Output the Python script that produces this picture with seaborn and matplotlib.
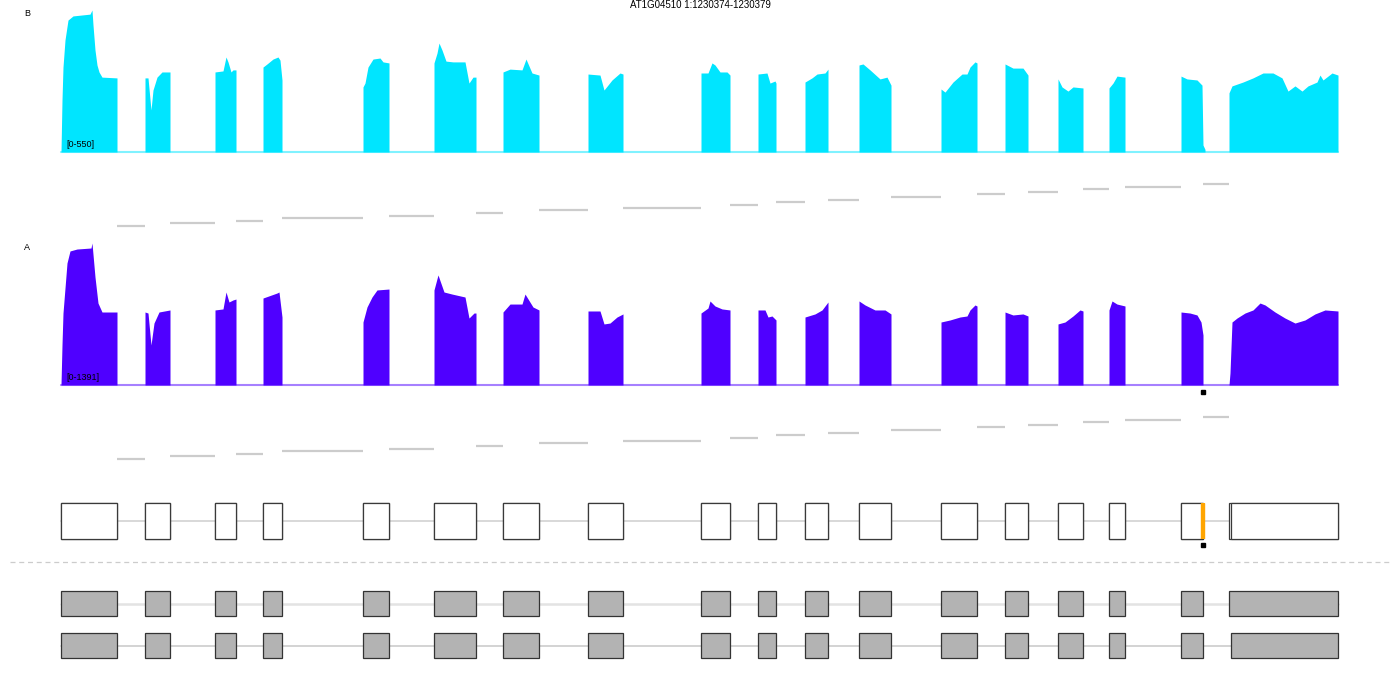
import matplotlib
matplotlib.use("Agg")
import matplotlib.pyplot as plt
from matplotlib.patches import Rectangle
from matplotlib.lines import Line2D
import seaborn as sns

title = "AT1G04510 1:1230374-1230379"

# gene structure (position units along the locus)
exon_starts = [61, 145, 215, 263, 363, 434, 503, 588, 701, 758, 805, 859, 941, 1005, 1058, 1109, 1181, 1229]
exon_ends = [117, 170, 236, 282, 389, 476, 539, 623, 730, 776, 828, 891, 977, 1028, 1083, 1125, 1203, 1338]
exon_starts_t2 = [61, 145, 215, 263, 363, 434, 503, 588, 701, 758, 805, 859, 941, 1005, 1058, 1109, 1181, 1231]
site = (1201, 1204)

# coverage, sample B (range 0-550)
b_max = 550
cov_b = [
    [(61, 0), (62, 201), (63, 329), (65, 434), (68, 511), (73, 527), (90, 534), (91, 542), (92, 550),
     (93, 492), (95, 395), (97, 337), (99, 310), (102, 290), (117, 287)],
    [(145, 287), (148, 287), (151, 163), (153, 240), (157, 290), (162, 310), (170, 310)],
    [(215, 310), (223, 314), (226, 368), (228, 349), (231, 310), (233, 318), (236, 318)],
    [(263, 329), (267, 341), (273, 360), (278, 368), (280, 356), (282, 279)],
    [(363, 252), (365, 267), (368, 329), (373, 360), (380, 364), (383, 349), (389, 345)],
    [(434, 345), (437, 383), (439, 422), (442, 395), (446, 352), (453, 349), (465, 349), (469, 267),
     (473, 290), (476, 290)],
    [(503, 310), (510, 321), (522, 318), (526, 360), (532, 306), (539, 298)],
    [(588, 302), (600, 298), (604, 240), (612, 279), (620, 306), (623, 302)],
    [(701, 306), (708, 306), (712, 345), (715, 337), (720, 310), (727, 310), (730, 298)],
    [(758, 302), (767, 306), (770, 267), (775, 275), (776, 267)],
    [(805, 271), (812, 287), (817, 302), (825, 306), (828, 321)],
    [(859, 337), (863, 341), (870, 318), (880, 283), (887, 290), (891, 259)],
    [(941, 244), (945, 232), (953, 271), (962, 302), (967, 302), (970, 329), (975, 349), (977, 345)],
    [(1005, 341), (1013, 325), (1023, 325), (1028, 298)],
    [(1058, 283), (1062, 252), (1068, 236), (1073, 252), (1083, 248)],
    [(1109, 248), (1113, 267), (1117, 294), (1125, 290)],
    [(1181, 294), (1187, 283), (1197, 279), (1202, 259), (1203, 27), (1205, 10)],
    [(1229, 229), (1232, 256), (1243, 271), (1253, 287), (1263, 306), (1273, 306), (1282, 287), (1288, 236),
     (1295, 256), (1302, 236), (1308, 256), (1317, 271), (1320, 298), (1323, 279), (1332, 306), (1338, 298)],
]

# coverage, sample A (range 0-1391)
a_max = 1391
cov_a = [
    [(61, 0), (62, 392), (63, 705), (67, 1195), (70, 1313), (77, 1332), (91, 1342), (92, 1391),
     (95, 1058), (98, 803), (102, 715), (117, 715)],
    [(145, 715), (148, 705), (151, 392), (154, 607), (159, 715), (170, 735)],
    [(215, 735), (223, 745), (226, 911), (229, 813), (233, 833), (236, 842)],
    [(263, 852), (277, 901), (279, 911), (282, 666)],
    [(363, 617), (367, 764), (372, 862), (377, 931), (389, 940)],
    [(434, 931), (438, 1078), (444, 911), (452, 891), (465, 862), (469, 656), (474, 705), (476, 705)],
    [(503, 715), (510, 793), (522, 793), (525, 891), (533, 764), (539, 735)],
    [(588, 725), (600, 725), (604, 598), (610, 607), (617, 666), (623, 696)],
    [(701, 705), (708, 754), (710, 823), (715, 774), (722, 745), (730, 735)],
    [(758, 735), (765, 735), (768, 666), (772, 676), (776, 637)],
    [(805, 666), (815, 696), (822, 735), (828, 813)],
    [(859, 823), (865, 784), (875, 735), (885, 735), (891, 696)],
    [(941, 617), (950, 637), (960, 666), (967, 676), (970, 735), (975, 784), (977, 774)],
    [(1005, 715), (1013, 686), (1023, 696), (1028, 676)],
    [(1058, 598), (1065, 617), (1073, 676), (1080, 735), (1083, 725)],
    [(1109, 735), (1112, 823), (1117, 793), (1125, 774)],
    [(1181, 715), (1190, 705), (1197, 686), (1201, 617), (1203, 490)],
    [(1229, 0), (1230, 118), (1232, 617), (1237, 656), (1245, 705), (1253, 735), (1260, 803), (1265, 784),
     (1275, 715), (1285, 656), (1295, 607), (1305, 637), (1315, 696), (1325, 735), (1338, 725)],
]

W, H = 1400, 700

sns.set_theme(style="white")
plt.rcParams['font.family'] = ['Liberation Sans', 'DejaVu Sans']
fig = plt.figure(figsize=(14, 7), dpi=100)


def track_ax(top, bottom):
    ax = fig.add_axes([0, 1 - bottom / H, 1, (bottom - top) / H])
    ax.set_xlim(0, W)
    ax.set_axis_off()
    return ax


def draw_coverage(ax, cov, ymax, fill, base, label, name, name_y):
    ax.set_ylim(0, ymax)
    ax.plot([exon_starts[0], exon_ends[-1]], [0, 0], color=base, lw=1.5, zorder=1, clip_on=False)
    for seg in cov:
        xs = [seg[0][0]] + [p[0] for p in seg] + [seg[-1][0]]
        ys = [0] + [p[1] for p in seg] + [0]
        ax.fill_between(xs, 0, ys, color=fill, lw=0, zorder=2)
    ax.text(66, ymax * 0.02, label, fontsize=6.5, va="bottom", ha="left", color="black", zorder=3)
    fig.text(27 / W, 1 - name_y / H, name, fontsize=6.5, ha="center", va="center", color="black")


def draw_junctions(ax):
    ax.set_ylim(-1.5, 17.5)
    for i in range(len(exon_ends) - 1):
        ax.plot([exon_ends[i], exon_starts[i + 1]], [i, i], color="#cccccc", lw=1.6,
                solid_capstyle="butt")


def draw_exons(ax, starts, ends, y, h, face, edge):
    for s, e in zip(starts, ends):
        ax.add_patch(Rectangle((s, y - h / 2), e - s, h, facecolor=face, edgecolor=edge, lw=0.9,
                               zorder=3, clip_on=False))


# sample B
ax_b = track_ax(10, 152)
draw_coverage(ax_b, cov_b, b_max, "#00e5ff", "#80f2ff", "[0-550]", "B", 14)
ax_bj = track_ax(180, 230)
draw_junctions(ax_bj)

# sample A
ax_a = track_ax(243, 385)
draw_coverage(ax_a, cov_a, a_max, "#4f00ff", "#a680ff", "[0-1391]", "A", 247)
ax_a.plot([sum(site) / 2 + 0.5], [-a_max * 0.05], marker="s", ms=2.5, color="black", clip_on=False)
ax_aj = track_ax(413, 463)
draw_junctions(ax_aj)

# gene model (both transcripts overlaid)
ax_g = track_ax(503, 539)
ax_g.set_ylim(-0.5, 0.5)
ax_g.plot([exon_starts[0], exon_ends[-1]], [0, 0], color="#d5d5d5", lw=1.3, zorder=1)
draw_exons(ax_g, exon_starts, exon_ends, 0, 1, "white", "#3a3a3a")
draw_exons(ax_g, exon_starts_t2, exon_ends, 0, 1, "white", "#3a3a3a")
ax_g.axvspan(site[0], site[1], color="#ffa500", zorder=4)
ax_g.plot([sum(site) / 2 + 0.5], [-0.67], marker="s", ms=2.5, color="black", clip_on=False)

# separator
fig.add_artist(Line2D([10 / W, 1390 / W], [1 - 562 / H] * 2, transform=fig.transFigure,
                      color="#cccccc", lw=0.9, ls=(0, (4, 3))))

# transcripts
ax_t = track_ax(580, 670)
ax_t.set_ylim(-0.583, 1.56)
ax_t.plot([exon_starts[0], exon_ends[-1]], [1, 1], color="#e3e3e3", lw=1.8, zorder=1)
ax_t.plot([exon_starts_t2[0], exon_ends[-1]], [0, 0], color="#cccccc", lw=1.2, zorder=1)
draw_exons(ax_t, exon_starts, exon_ends, 1, 0.595, "#b3b3b3", "#333333")
draw_exons(ax_t, exon_starts_t2, exon_ends, 0, 0.595, "#b3b3b3", "#333333")

fig.text(0.5, 1 - 5 / H, title, fontsize=7, ha="center", va="center", color="black")

fig.savefig("out.png", dpi=100)
